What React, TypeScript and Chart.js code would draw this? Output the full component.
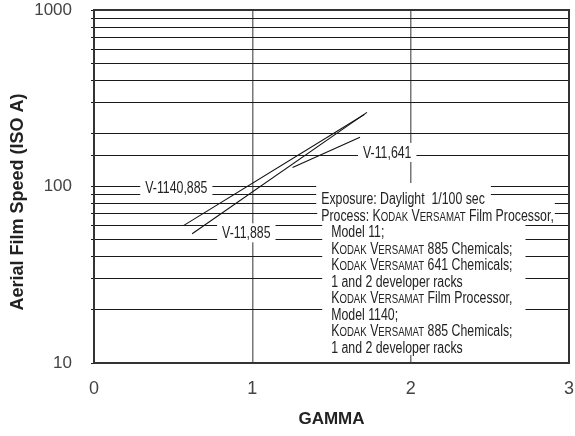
import React, { useEffect, useRef } from 'react';
import { Chart, registerables } from 'chart.js';

Chart.register(...registerables);

// ---------- data ----------
const GAMMA_TICKS = [0, 1, 2, 3];
const SPEED_TICK_LABELS = [10, 100, 1000];
const SERIES_NAMES = ['V-1140,885', 'V-11,885', 'V-11,641'];
const V1140_885_GAMMA = [0.565, 1.707];
const V1140_885_SPEED = [60, 256];
const V11_885_GAMMA = [0.62, 1.724];
const V11_885_SPEED = [54, 263];
const V11_641_GAMMA = [1.254, 1.68];
const V11_641_SPEED = [128, 190];
const NOTE_LINES = [
  'Exposure: Daylight  1/100 sec',
  'Process: {KODAK} {VERSAMAT} Film Processor,',
  'Model 11;',
  '{KODAK} {VERSAMAT} 885 Chemicals;',
  '{KODAK} {VERSAMAT} 641 Chemicals;',
  '1 and 2 developer racks',
  '{KODAK} {VERSAMAT} Film Processor,',
  'Model 1140;',
  '{KODAK} {VERSAMAT} 885 Chemicals;',
  '1 and 2 developer racks',
];
const X_TITLE = 'GAMMA';
const Y_TITLE = 'Aerial Film Speed (ISO A)';

// ---------- layout / style (not data) ----------
const SERIES_LABEL_ANCHORS = [
  { gamma: 0.52, speed: 100 },
  { gamma: 0.962, speed: 55 },
  { gamma: 1.852, speed: 157 },
];
const NOTE_ANCHOR = { gamma: 1.435, speed: 86 };
const SANS = '"Liberation Sans", Arial, sans-serif';
const TEXT = '#222';
const SQUEEZE = 0.77;

function toPoints(xs: number[], ys: number[]) {
  return xs.map((v, i) => ({ x: v, y: ys[i] }));
}

type Run = { t: string; small: boolean };
function parseRich(s: string): Run[] {
  const out: Run[] = [];
  const re = /\{([^}]+)\}/g;
  let last = 0;
  let m: RegExpExecArray | null;
  while ((m = re.exec(s))) {
    if (m.index > last) out.push({ t: s.slice(last, m.index), small: false });
    out.push({ t: m[1][0], small: false });
    out.push({ t: m[1].slice(1), small: true });
    last = m.index + m[0].length;
  }
  if (last < s.length) out.push({ t: s.slice(last), small: false });
  return out;
}
const BIG = `16px ${SANS}`;
const SMALL = `12.5px ${SANS}`;
function richWidth(ctx: CanvasRenderingContext2D, s: string) {
  let w = 0;
  for (const r of parseRich(s)) {
    ctx.font = r.small ? SMALL : BIG;
    w += ctx.measureText(r.t).width;
  }
  return w * SQUEEZE;
}
function drawRich(ctx: CanvasRenderingContext2D, s: string, x: number, y: number) {
  ctx.save();
  ctx.translate(x, y);
  ctx.scale(SQUEEZE, 1);
  let cx = 0;
  ctx.textAlign = 'left';
  ctx.textBaseline = 'alphabetic';
  for (const r of parseRich(s)) {
    ctx.font = r.small ? SMALL : BIG;
    ctx.fillText(r.t, cx, 0);
    cx += ctx.measureText(r.t).width;
  }
  ctx.restore();
}

const annotationPlugin = {
  id: 'annotations',
  beforeDatasetsDraw(chart: any) {
    const { ctx } = chart;
    const xs = chart.scales.x;
    const ys = chart.scales.y;
    ctx.save();
    // series labels with white backgrounds
    SERIES_NAMES.forEach((name, i) => {
      const a = SERIES_LABEL_ANCHORS[i];
      const cx = xs.getPixelForValue(a.gamma);
      const cy = ys.getPixelForValue(a.speed);
      const w = richWidth(ctx, name);
      ctx.fillStyle = '#fff';
      ctx.fillRect(cx - w / 2 - 5, cy - 9, w + 10, 19);
      ctx.fillStyle = TEXT;
      drawRich(ctx, name, cx - w / 2, cy + 6);
    });
    // note block
    const x0 = xs.getPixelForValue(NOTE_ANCHOR.gamma);
    const y0 = ys.getPixelForValue(NOTE_ANCHOR.speed);
    const step = 16.5;
    const indent = 10;
    const rowY = (i: number) => y0 + i * step;
    const widths = NOTE_LINES.map((l) => richWidth(ctx, l));
    ctx.fillStyle = '#fff';
    ctx.fillRect(x0 - 5, rowY(0) - 15, widths[0] + 11, 23);
    ctx.fillRect(x0 - 4, rowY(1) - 14, widths[1] + 5, 22);
    let maxW = 0;
    for (let i = 2; i < NOTE_LINES.length; i++) maxW = Math.max(maxW, widths[i]);
    ctx.fillRect(x0 + indent - 9, rowY(2) - 9, maxW + 22, rowY(NOTE_LINES.length - 1) - rowY(2) + 17.5);
    ctx.fillStyle = TEXT;
    NOTE_LINES.forEach((l, i) => {
      drawRich(ctx, l, x0 + (i >= 2 ? indent : 0), rowY(i) + 6);
    });
    ctx.restore();
  },
  afterDraw(chart: any) {
    const { ctx, chartArea: ca } = chart;
    ctx.save();
    ctx.strokeStyle = '#333';
    ctx.lineWidth = 2;
    ctx.strokeRect(ca.left, ca.top, ca.right - ca.left, ca.bottom - ca.top);
    // y-axis title
    ctx.translate(18, 202);
    ctx.rotate(-Math.PI / 2);
    ctx.font = `bold 18px ${SANS}`;
    ctx.fillStyle = TEXT;
    ctx.textAlign = 'center';
    ctx.textBaseline = 'middle';
    ctx.fillText(Y_TITLE, 0, 0);
    ctx.restore();
  },
};

export default function App() {
  const ref = useRef<HTMLCanvasElement | null>(null);
  useEffect(() => {
    if (!ref.current) return;
    const lineStyle = { borderColor: '#111', borderWidth: 1.1, pointRadius: 0, fill: false, tension: 0 };
    const chart = new Chart(ref.current, {
      type: 'line',
      data: {
        datasets: [
          { label: SERIES_NAMES[0], data: toPoints(V1140_885_GAMMA, V1140_885_SPEED), ...lineStyle },
          { label: SERIES_NAMES[1], data: toPoints(V11_885_GAMMA, V11_885_SPEED), ...lineStyle },
          { label: SERIES_NAMES[2], data: toPoints(V11_641_GAMMA, V11_641_SPEED), ...lineStyle },
        ],
      },
      options: {
        animation: false,
        responsive: false,
        devicePixelRatio: 1,
        layout: { padding: { left: 0, right: 6, top: 10, bottom: 0 } },
        plugins: { legend: { display: false }, tooltip: { enabled: false } },
        scales: {
          x: {
            type: 'linear',
            min: GAMMA_TICKS[0],
            max: GAMMA_TICKS[GAMMA_TICKS.length - 1],
            afterBuildTicks: (s: any) => {
              s.ticks = GAMMA_TICKS.map((v) => ({ value: v }));
            },
            afterFit: (s: any) => {
              s.height = 73;
              s.paddingLeft = 0;
              s.paddingRight = 0;
            },
            border: { display: false },
            grid: {
              drawTicks: false,
              color: (c: any) => (c.tick && c.tick.value > GAMMA_TICKS[0] && c.tick.value < GAMMA_TICKS[GAMMA_TICKS.length - 1] ? '#777' : 'rgba(0,0,0,0)'),
              lineWidth: 1.5,
            },
            ticks: {
              padding: 15,
              color: '#444',
              font: { family: SANS, size: 18 },
              callback: (v: any) => String(v),
            },
            title: {
              display: true,
              text: X_TITLE,
              color: TEXT,
              font: { family: SANS, size: 17, weight: 'bold' },
              padding: { top: 0, bottom: 6 },
            },
          },
          y: {
            type: 'logarithmic',
            min: SPEED_TICK_LABELS[0],
            max: SPEED_TICK_LABELS[SPEED_TICK_LABELS.length - 1],
            afterFit: (s: any) => {
              s.width = 94;
              s.paddingTop = 0;
              s.paddingBottom = 0;
            },
            border: { display: false },
            grid: { color: '#1a1a1a', lineWidth: 1, tickLength: 3 },
            ticks: {
              autoSkip: false,
              padding: 19,
              color: '#444',
              font: { family: SANS, size: 17 },
              callback: (v: any) => (SPEED_TICK_LABELS.includes(Number(v)) ? String(v) : ''),
            },
          },
        },
      },
      plugins: [annotationPlugin],
    } as any);
    return () => chart.destroy();
  }, []);
  return (
    <div style={{ position: 'fixed', left: 0, top: 0, width: 575, height: 436, background: '#fff' }}>
      <canvas ref={ref} width={575} height={436} />
    </div>
  );
}
